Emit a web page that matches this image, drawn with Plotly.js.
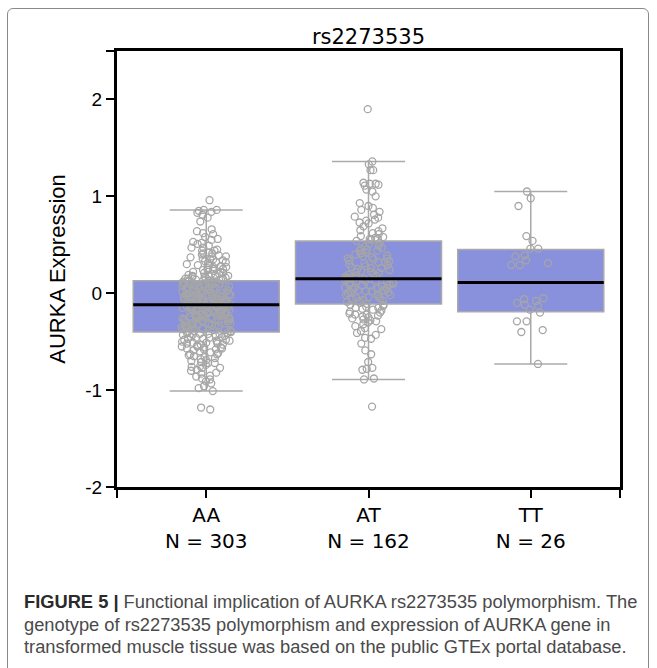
<!DOCTYPE html>
<html>
<head>
<meta charset="utf-8">
<script src="https://cdn.plot.ly/plotly-3.0.1.min.js"></script>
<style>
  html, body { margin: 0; padding: 0; background: #ffffff; }
  #wrap { position: relative; width: 657px; height: 668px; overflow: hidden; background: #ffffff; }
  #chart { position: absolute; left: 0; top: 0; width: 657px; height: 668px; }
  #frame { position: absolute; left: 7px; top: 8px; width: 642px; height: 700px;
           border: 1px solid #8a8a8a; border-radius: 6px; pointer-events: none; box-sizing: border-box; }
  #caption { position: absolute; left: 24px; top: 591px; width: 630px;
             font-family: "Liberation Sans", Arial, sans-serif; font-size: 18.3px; line-height: 22.5px;
             color: #4a4a4a; white-space: nowrap; }
  #caption b { color: #2a2a2a; }
</style>
</head>
<body>
<div id="wrap">
  <div id="chart"></div>
  <div id="frame"></div>
  <div id="caption"><b>FIGURE 5 |</b> Functional implication of AURKA rs2273535 polymorphism. The<br>genotype of rs2273535 polymorphism and expression of AURKA gene in<br>transformed muscle tissue was based on the public GTEx portal database.</div>
</div>
<script>
// ---- data ----
var genotypes = ["AA", "AT", "TT"];
var sampleSizes = [303, 162, 26];
var tickLabels = ["AA<br>N = 303", "AT<br>N = 162", "TT<br>N = 26"];

// box statistics (AURKA expression)
var q1Values = [-0.40, -0.11, -0.19];
var medianValues = [-0.12, 0.15, 0.11];
var q3Values = [0.13, 0.54, 0.45];
var lowerWhisker = [-1.01, -0.89, -0.73];
var upperWhisker = [0.86, 1.36, 1.05];

// individual samples (estimated from the scatter of points)
var aaValues = [
  0.96,
  0.86, 0.85, 0.84, 0.83, 0.81, 0.86,
  0.78, 0.74,
  0.66, 0.64, 0.62, 0.61,
  0.58, 0.56, 0.55, 0.53, 0.52, 0.51,
  0.49, 0.47, 0.47, 0.45, 0.44, 0.44, 0.42, 0.41, 0.41, 0.40,
  0.39, 0.38, 0.38, 0.37, 0.36, 0.35, 0.35, 0.34, 0.33, 0.32, 0.32, 0.31, 0.30,
  0.29, 0.29, 0.28, 0.27, 0.27, 0.26, 0.25, 0.25, 0.24, 0.24, 0.23, 0.22, 0.22, 0.21, 0.21, 0.20, 0.20,
  0.19, 0.19, 0.18, 0.18, 0.18, 0.17, 0.17, 0.16, 0.16, 0.15, 0.15, 0.15, 0.14, 0.14,
  0.13, 0.13, 0.13, 0.12, 0.12, 0.12, 0.11, 0.11, 0.11, 0.10, 0.10, 0.10, 0.10,
  0.09, 0.09, 0.09, 0.08, 0.08, 0.08, 0.07, 0.07, 0.07, 0.06, 0.06, 0.06, 0.05, 0.05, 0.05,
  0.04, 0.04, 0.04, 0.03, 0.03, 0.03, 0.02, 0.02, 0.02, 0.01, 0.01, 0.01, 0.00, 0.00, 0.00,
  -0.01, -0.01, -0.01, -0.02, -0.02, -0.02, -0.03, -0.03, -0.03, -0.04, -0.04, -0.04,
  -0.05, -0.05, -0.05, -0.06, -0.06, -0.06, -0.07, -0.07, -0.07, -0.08, -0.08, -0.08,
  -0.09, -0.09, -0.09, -0.09, -0.10, -0.10, -0.10,
  -0.11, -0.11, -0.11, -0.11, -0.12, -0.12, -0.12, -0.13, -0.13, -0.13, -0.14, -0.14, -0.14,
  -0.15, -0.15, -0.15, -0.15, -0.16, -0.16, -0.16, -0.17, -0.17, -0.17, -0.18, -0.18, -0.18,
  -0.19, -0.19, -0.19, -0.20, -0.20, -0.20,
  -0.21, -0.21, -0.21, -0.22, -0.22, -0.22, -0.23, -0.23, -0.23, -0.24, -0.24, -0.24,
  -0.25, -0.25, -0.25, -0.26, -0.26, -0.26, -0.27, -0.27, -0.27, -0.28, -0.28, -0.28,
  -0.29, -0.29, -0.30, -0.30,
  -0.31, -0.31, -0.31, -0.32, -0.32, -0.32, -0.33, -0.33, -0.34, -0.34, -0.34, -0.35, -0.35,
  -0.36, -0.36, -0.36, -0.37, -0.37, -0.38, -0.38, -0.39, -0.39, -0.40, -0.40,
  -0.41, -0.41, -0.42, -0.42, -0.42, -0.43, -0.43, -0.44, -0.44, -0.45, -0.45,
  -0.46, -0.46, -0.47, -0.47, -0.48, -0.48, -0.49, -0.49, -0.50, -0.50,
  -0.51, -0.51, -0.52, -0.52, -0.53, -0.53, -0.54, -0.55, -0.55, -0.56, -0.56,
  -0.57, -0.57, -0.58, -0.58, -0.59, -0.60,
  -0.61, -0.62, -0.63, -0.63, -0.64, -0.65, -0.66, -0.67, -0.68, -0.69, -0.70,
  -0.71, -0.72, -0.72, -0.74, -0.75, -0.76, -0.77, -0.77, -0.79, -0.80,
  -0.82, -0.83, -0.85, -0.86, -0.88, -0.89,
  -0.91, -0.93, -0.96, -0.98,
  -1.01,
  -1.18, -1.20
];
var atValues = [
  1.90,
  1.36, 1.33, 1.27, 1.27,
  1.14, 1.13, 1.13, 1.12, 1.11,
  1.07, 1.05, 1.00, 0.93, 0.90,
  0.88, 0.86, 0.84, 0.81,
  0.79, 0.78, 0.76, 0.75, 0.73, 0.72,
  0.69, 0.67, 0.65, 0.64, 0.62, 0.61,
  0.59, 0.58, 0.57, 0.56, 0.56, 0.55, 0.54, 0.52, 0.51,
  0.49, 0.48, 0.47, 0.46, 0.45, 0.44, 0.44, 0.42, 0.41, 0.40,
  0.39, 0.38, 0.37, 0.36, 0.36, 0.35, 0.34, 0.33, 0.32, 0.32, 0.31, 0.30,
  0.29, 0.28, 0.27, 0.26, 0.26, 0.25, 0.24, 0.23, 0.22, 0.22, 0.21, 0.20,
  0.19, 0.18, 0.18, 0.17, 0.16, 0.16, 0.15, 0.15, 0.14, 0.13, 0.13, 0.12, 0.12, 0.11, 0.11, 0.10,
  0.09, 0.09, 0.08, 0.08, 0.07, 0.06, 0.06, 0.05, 0.05, 0.04, 0.03, 0.03, 0.02, 0.02, 0.01, 0.01, 0.00,
  -0.01, -0.02, -0.02, -0.03, -0.04, -0.05, -0.05, -0.06, -0.07, -0.08, -0.08, -0.09, -0.10,
  -0.11, -0.12, -0.12, -0.13, -0.14, -0.15, -0.15, -0.16, -0.17, -0.18, -0.19, -0.20,
  -0.21, -0.22, -0.22, -0.23, -0.24, -0.25, -0.26, -0.27, -0.28, -0.29, -0.30,
  -0.32, -0.34, -0.36, -0.37, -0.39,
  -0.41, -0.43, -0.46, -0.47,
  -0.52, -0.59, -0.63,
  -0.71, -0.77, -0.78, -0.79,
  -0.88, -0.89,
  -1.17
];
var ttValues = [
  1.05, 0.98, 0.90, 0.59, 0.54, 0.46, 0.46, 0.39, 0.38, 0.34, 0.31, 0.29, 0.29,
  -0.05, -0.06, -0.08, -0.10, -0.12, -0.13, -0.17, -0.20, -0.29, -0.29, -0.38, -0.40, -0.73
];
var sampleSets = [aaValues, atValues, ttValues];

// ---- styles ----
var boxFill = "#8991dc";
var greyLine = "#aaaaaa";
var boxWidth = 0.9;
var positions = genotypes.map(function (g, i) { return i; });

var traces = [];

// boxes with whiskers
traces.push({
  type: "box",
  x: positions,
  q1: q1Values,
  median: medianValues,
  q3: q3Values,
  lowerfence: lowerWhisker,
  upperfence: upperWhisker,
  width: boxWidth,
  whiskerwidth: 0.5,
  fillcolor: boxFill,
  line: { color: greyLine, width: 1.5 },
  boxpoints: false,
  hoverinfo: "skip",
  showlegend: false
});

// jittered sample points
sampleSets.forEach(function (vals, i) {
  traces.push({
    type: "box",
    x0: positions[i],
    y: vals,
    width: boxWidth,
    boxpoints: "all",
    jitter: 0.34,
    pointpos: 0,
    fillcolor: "rgba(0,0,0,0)",
    line: { color: "rgba(0,0,0,0)", width: 0 },
    marker: { symbol: "circle-open", size: 7, color: "#a6a6a6", line: { color: "#a6a6a6", width: 1.3 } },
    hoverinfo: "skip",
    showlegend: false
  });
});

// black median lines on top
traces.push({
  type: "box",
  x: positions,
  q1: medianValues,
  median: medianValues,
  q3: medianValues,
  lowerfence: medianValues,
  upperfence: medianValues,
  width: boxWidth,
  whiskerwidth: 0,
  fillcolor: "rgba(0,0,0,0)",
  line: { color: "#000000", width: 3 },
  boxpoints: false,
  hoverinfo: "skip",
  showlegend: false
});

var xRange = [-0.55, 2.55];
var yRange = [-2, 2.5];

var layout = {
  width: 657,
  height: 668,
  margin: { l: 117, r: 37, t: 51, b: 181 },
  paper_bgcolor: "rgba(0,0,0,0)",
  plot_bgcolor: "#ffffff",
  boxmode: "overlay",
  showlegend: false,
  title: {
    text: "rs2273535",
    font: { family: "DejaVu Sans", size: 21, color: "#000000" },
    xref: "paper", x: 0.5, xanchor: "center",
    yref: "container", y: 1 - 37 / 668, yanchor: "middle"
  },
  xaxis: {
    range: xRange,
    tickmode: "array",
    tickvals: [xRange[0] + 0.0001].concat(positions, [xRange[1] - 0.0001]),
    ticktext: [""].concat(tickLabels, [""]),
    ticks: "outside", ticklen: 8, tickwidth: 2, tickcolor: "#000000",
    showline: true, linecolor: "#000000", linewidth: 3, mirror: true,
    showgrid: false, zeroline: false,
    tickfont: { family: "DejaVu Sans", size: 20, color: "#000000" },
    fixedrange: true
  },
  yaxis: {
    range: yRange,
    tickmode: "array",
    tickvals: [-2, -1, 0, 1, 2, 2.4999],
    ticktext: ["-2", "-1", "0", "1", "2", ""],
    ticks: "outside", ticklen: 8, tickwidth: 2, tickcolor: "#000000",
    showline: true, linecolor: "#000000", linewidth: 3, mirror: true,
    showgrid: false, zeroline: false,
    tickfont: { family: "Liberation Sans", size: 19, color: "#000000" },
    title: { text: "AURKA Expression", font: { family: "Liberation Sans", size: 22, color: "#000000" }, standoff: 14 },
    automargin: false,
    fixedrange: true
  }
};

Plotly.newPlot("chart", traces, layout, { staticPlot: true, displayModeBar: false });
</script>
</body>
</html>
